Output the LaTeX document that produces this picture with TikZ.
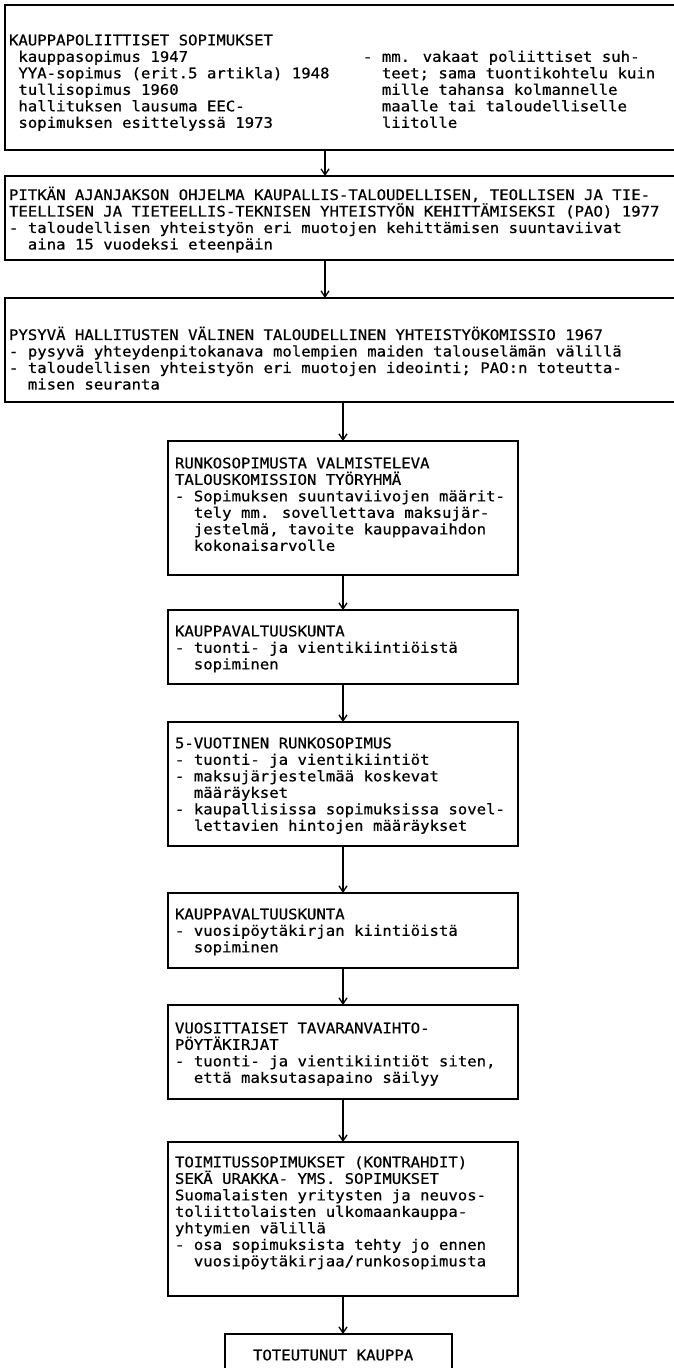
\documentclass[tikz,border=0pt]{standalone}
\usepackage{fontspec}
\newfontfamily\tw[FakeStretch=1.08,FakeBold=0.6]{DejaVu Sans Mono}
\newcommand\twfont{\tw\fontsize{14.5}{16.5}\selectfont}
\usetikzlibrary{arrows.meta}
\begin{document}
\lineskiplimit=-100pt
\begin{tikzpicture}[x=1pt,y=-1pt,
  box/.style={draw, line width=1.3pt, rectangle, inner sep=0pt, outer sep=0pt, anchor=north west},
  txt/.style={inner sep=0pt, outer sep=0pt, anchor=north west, align=left, font=\twfont},
  arr/.style={-{Straight Barb[length=6pt,width=8pt]}, line width=1.3pt}]
\path[use as bounding box] (0,0) rectangle (674,1368);
\clip (0,0) rectangle (674,1368);
\fill[white] (0,0) rectangle (674,1368);
% boxes
\node[box, minimum width=690pt, minimum height=145pt] (b1) at (5,5) {};
\node[box, minimum width=690pt, minimum height=84pt]  (b2) at (5,176) {};
\node[box, minimum width=690pt, minimum height=104pt] (b3) at (5,298) {};
\node[box, minimum width=350pt, minimum height=134pt] (b4) at (168,441) {};
\node[box, minimum width=350pt, minimum height=74pt]  (b5) at (168,610) {};
\node[box, minimum width=350pt, minimum height=124pt] (b6) at (168,722) {};
\node[box, minimum width=350pt, minimum height=75pt]  (b7) at (168,893) {};
\node[box, minimum width=350pt, minimum height=94pt]  (b8) at (168,1005) {};
\node[box, minimum width=350pt, minimum height=154pt] (b9) at (168,1142) {};
\node[box, minimum width=227pt, minimum height=70pt]  (b10) at (225,1334) {};
% texts
\node[txt] (t1) at (9,33.75) {\strut KAUPPAPOLIITTISET SOPIMUKSET\\
~kauppasopimus 1947\\
~YYA-sopimus (erit.5 artikla) 1948\\
~tullisopimus 1960\\
~hallituksen lausuma EEC-\\
~sopimuksen esittelyssä 1973};
\node[txt] (t1r) at (363,50.25) {\strut - mm. vakaat poliittiset suh-\\
~~teet; sama tuontikohtelu kuin\\
~~mille tahansa kolmannelle\\
~~maalle tai taloudelliselle\\
~~liitolle};
\node[txt] (t2) at (9,186.75) {\strut PITKÄN AJANJAKSON OHJELMA KAUPALLIS-TALOUDELLISEN, TEOLLISEN JA TIE-\\
TEELLISEN JA TIETEELLIS-TEKNISEN YHTEISTYÖN KEHITTÄMISEKSI (PAO) 1977\\
- taloudellisen yhteistyön eri muotojen kehittämisen suuntaviivat\\
~~aina 15 vuodeksi eteenpäin};
\node[txt] (t3) at (9,326.75) {\strut PYSYVÄ HALLITUSTEN VÄLINEN TALOUDELLINEN YHTEISTYÖKOMISSIO 1967\\
- pysyvä yhteydenpitokanava molempien maiden talouselämän välillä\\
- taloudellisen yhteistyön eri muotojen ideointi; PAO:n toteutta-\\
~~misen seuranta};
\node[txt] (t4) at (175,456.75) {\strut RUNKOSOPIMUSTA VALMISTELEVA\\
TALOUSKOMISSION TYÖRYHMÄ\\
- Sopimuksen suuntaviivojen määrit-\\
~~tely mm. sovellettava maksujär-\\
~~jestelmä, tavoite kauppavaihdon\\
~~kokonaisarvolle};
\node[txt] (t5) at (175,624.75) {\strut KAUPPAVALTUUSKUNTA\\
- tuonti- ja vientikiintiöistä\\
~~sopiminen};
\node[txt] (t6) at (175,736.75) {\strut 5-VUOTINEN RUNKOSOPIMUS\\
- tuonti- ja vientikiintiöt\\
- maksujärjestelmää koskevat\\
~~määräykset\\
- kaupallisissa sopimuksissa sovel-\\
~~lettavien hintojen määräykset};
\node[txt] (t7) at (175,907.75) {\strut KAUPPAVALTUUSKUNTA\\
- vuosipöytäkirjan kiintiöistä\\
~~sopiminen};
\node[txt] (t8) at (175,1021.75) {\strut VUOSITTAISET TAVARANVAIHTO-\\
PÖYTÄKIRJAT\\
- tuonti- ja vientikiintiöt siten,\\
~~että maksutasapaino säilyy};
\node[txt] (t9) at (175,1155.75) {\strut TOIMITUSSOPIMUKSET (KONTRAHDIT)\\
SEKÄ URAKKA- YMS. SOPIMUKSET\\
Suomalaisten yritysten ja neuvos-\\
toliittolaisten ulkomaankauppa-\\
yhtymien välillä\\
- osa sopimuksista tehty jo ennen\\
~~vuosipöytäkirjaa/runkosopimusta};
\node[txt] (t10) at (253,1348.75) {\strut TOTEUTUNUT KAUPPA};
% connectors
\coordinate (ax) at (325,0);
\draw[arr] (ax |- b1.south) -- (ax |- b2.north);
\draw[arr] (ax |- b2.south) -- (ax |- b3.north);
\draw[arr] (b4.north |- b3.south) -- (b4.north);
\draw[arr] (b4.south) -- (b5.north);
\draw[arr] (b5.south) -- (b6.north);
\draw[arr] (b6.south) -- (b7.north);
\draw[arr] (b7.south) -- (b8.north);
\draw[arr] (b8.south) -- (b9.north);
\draw[arr] (b9.south) -- (b9.south |- b10.north);
\end{tikzpicture}
\end{document}
